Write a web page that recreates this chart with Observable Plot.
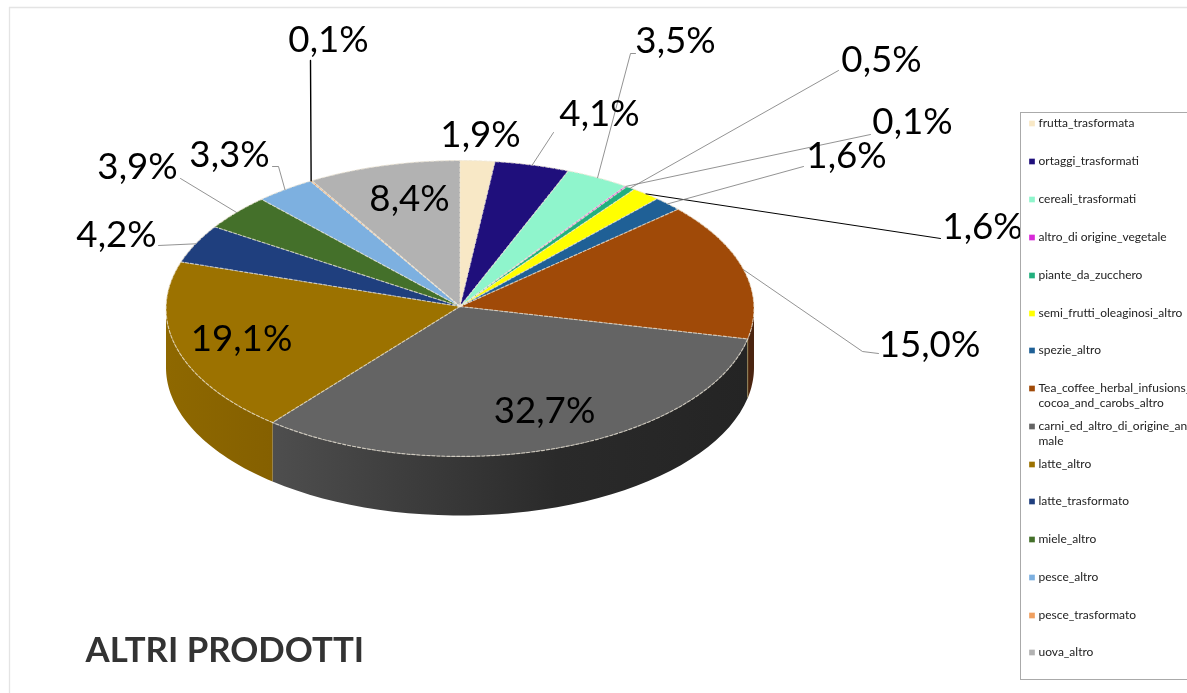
<!DOCTYPE html>
<html><head><meta charset="utf-8">
<style>html,body{margin:0;padding:0;background:#fff;overflow:hidden}svg{display:block;filter:blur(0.35px)}</style>
<script src="https://cdn.jsdelivr.net/npm/d3@7"></script>
<script src="https://cdn.jsdelivr.net/npm/@observablehq/plot@0.6"></script>
</head><body><div id="chart"></div>
<script>
const names = ["frutta_trasformata","ortaggi_trasformati","cereali_trasformati","altro_di origine_vegetale","piante_da_zucchero","semi_frutti_oleaginosi_altro","spezie_altro","Tea_coffee_herbal_infusions_\ncocoa_and_carobs_altro","carni_ed_altro_di_origine_ani\nmale","latte_altro","latte_trasformato","miele_altro","pesce_altro","pesce_trasformato","uova_altro"];
const shares = [1.9,4.1,3.5,0.1,0.5,1.6,1.6,15.0,32.7,19.1,4.2,3.9,3.3,0.1,8.4];
const colors = ["#F8E8C6","#1F0F7C","#8FF5CC","#D82AD8","#22B07E","#FFFF00","#1F6096","#A04A08","#646464","#9C7200","#1F3F7E","#44702A","#7DB0E0","#F0A060","#B2B2B2"];
const legendRows = [123,161,199,237,275,313,350,388,426,464,501,539,577,615,652];
// layout of the outside labels (label centre) and the elbow of each leader
const labelAt = [[480,135],[599,114],[675,41],[912,122],[881,60],[982,227],[846,156],[929,345],[544,411],[241,339],[116,235],[137,167],[229,155],[328,40],[409,199]];
const elbows = [null,[[553,132]],[[630,53],[635,53]],[[870,134]],[[838,70]],[[940,238]],[[803,166]],[[862,351],[878,353]],null,null,[[158,245]],[[180,178]],[[278,166],[272,166]],[[310,60]],null];
const darkLeader = [13,5];

const cx=459.5, cy=308, rx=294, ry=148, depth=59;
const rim=(t,dy=0)=>({x:cx+rx*Math.sin(t), y:cy-ry*Math.cos(t)+dy});
let acc=0;
const slices=shares.map((v,i)=>{const a0=acc/100*2*Math.PI; acc+=v; const a1=acc/100*2*Math.PI;
  return {i,name:names[i],v,a0,a1,mid:(a0+a1)/2,color:colors[i]};});
const arcPts=(a0,a1,dy=0)=>d3.range(0,41).map(k=>rim(a0+(a1-a0)*k/40,dy));
const sector=s=>[{x:cx,y:cy-2},...arcPts(s.a0,s.a1)];
const wall=s=>{const a0=Math.max(s.a0,Math.PI/2),a1=Math.min(s.a1,3*Math.PI/2);
  return a1>a0?[...arcPts(a0,a1),...arcPts(a0,a1,depth).reverse()]:null;};
const wallFill={7:"#4A2410",8:"url(#wallCarni)",9:"url(#wallLatte)"};
const fmt=v=>v.toFixed(1).replace(".",",")+"%";
const leaders=slices.filter(s=>elbows[s.i]).map(s=>({i:s.i,pts:[rim(s.mid),...elbows[s.i].map(([x,y])=>({x,y}))]}));

const defs=()=>{const d=d3.create("svg:defs");
  const g=(id,stops)=>{const l=d.append("linearGradient").attr("id",id);
    stops.forEach(([o,c])=>l.append("stop").attr("offset",o).attr("stop-color",c));};
  g("wallCarni",[[0,"#4E4E4E"],[0.3,"#3C3C3C"],[0.6,"#2A2A2A"],[1,"#242424"]]);
  g("wallLatte",[[0,"#8E6800"],[1,"#856000"]]);
  return d.node();};

const text=(data,o)=>Plot.text(data,{fontFamily:"Lato",fill:"#000",...o});
const plot=Plot.plot({
  width:1187,height:693,margin:0,
  x:{domain:[0,1187],range:[0,1187],axis:null},
  y:{domain:[0,693],range:[0,693],axis:null},
  marks:[
    defs,
    Plot.ruleY([7],{x1:9,x2:1187,stroke:"#E4E4E4",strokeWidth:1.3}),
    Plot.ruleX([9],{y1:7,y2:693,stroke:"#E4E4E4",strokeWidth:1.3}),
    ...slices.map(s=>wall(s)).map((w,i)=>w&&Plot.line(w,{x:"x",y:"y",fill:wallFill[i],stroke:"none"})),
    Plot.ruleX([rim(slices[8].a0).x],{y1:rim(slices[8].a0).y,y2:rim(slices[8].a0,depth).y,stroke:"#B9A060",strokeOpacity:0.7}),
    ...slices.map(s=>Plot.line(sector(s),{x:"x",y:"y",fill:s.color,stroke:"none"})),
    ...slices.map(s=>Plot.line(sector(s),{x:"x",y:"y",stroke:"#EFE8D8",strokeWidth:1.2,strokeOpacity:0.7,strokeDasharray:"3,2"})),
    ...leaders.map(l=>Plot.line(l.pts,{x:"x",y:"y",stroke:darkLeader.includes(l.i)?"#000":"#777",strokeWidth:darkLeader.includes(l.i)?(l.i===13?1.4:1):0.8})),
    text(slices,{x:s=>labelAt[s.i][0],y:s=>labelAt[s.i][1],text:s=>fmt(s.v),fontSize:36.7}),
    Plot.ruleX([1020],{y1:112,y2:679,stroke:"#AAA"}),
    Plot.ruleY([112,679],{x1:1020,x2:1187,stroke:"#AAA"}),
    Plot.dot(slices,{x:1031.5,y:s=>legendRows[s.i],symbol:"square",r:3.2,fill:"color",stroke:"none"}),
    text(slices,{x:1038,y:s=>legendRows[s.i]-1+(s.name.includes("\n")?7.5:0),text:"name",textAnchor:"start",lineAnchor:"middle",fontSize:12,lineHeight:1.25,fill:"#222"}),
    text(["ALTRI PRODOTTI"],{x:85,y:650,textAnchor:"start",fontSize:34.8,fontWeight:"bold",fill:"#333"})
  ].filter(Boolean),
  color:{type:"identity"}
});
document.getElementById("chart").append(plot);
</script></body></html>
